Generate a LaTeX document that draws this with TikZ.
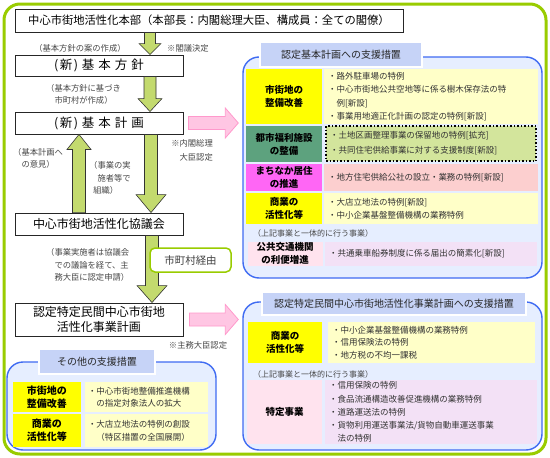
\documentclass[tikz,border=0pt]{standalone}
\usepackage{fontspec}
\setmainfont{Noto Sans CJK JP}
\usetikzlibrary{calc}
\definecolor{ygreen}{HTML}{99CC00}
\definecolor{agreen}{HTML}{C3DA6E}
\definecolor{pblue}{HTML}{3F6BF2}
\definecolor{pbg}{HTML}{E6EEFF}
\definecolor{ptbg}{HTML}{C6D3F7}
\definecolor{cyel}{HTML}{FFFFC8}
\definecolor{lyel}{HTML}{FFFF00}
\definecolor{lteal}{HTML}{5DA27E}
\definecolor{cgreen}{HTML}{D3E59C}
\definecolor{lmag}{HTML}{FF66F5}
\definecolor{cpink}{HTML}{FCCFCF}
\definecolor{lpink}{HTML}{FFE3EE}
\definecolor{clav}{HTML}{F3E1F6}
\definecolor{pinkfill}{HTML}{FFC6E3}
\definecolor{pinkline}{HTML}{FF99CC}
% vertical block arrow: from, to(tip), half shaft, half head, signed head length, style
\newcommand\vblock[6]{\path[#6] let \p1=(#1), \p2=(#2) in
  (\x1-#3,\y1) -- (\x1+#3,\y1) -- (\x1+#3,\y2+#5) -- (\x1+#4,\y2+#5) -- (\x1,\y2)
  -- (\x1-#4,\y2+#5) -- (\x1-#3,\y2+#5) -- cycle;}
% horizontal block arrow pointing right
\newcommand\hblock[6]{\path[#6] let \p1=(#1), \p2=(#2) in
  (\x1,\y1-#3) -- (\x1,\y1+#3) -- (\x2-#5,\y1+#3) -- (\x2-#5,\y1+#4) -- (\x2,\y1)
  -- (\x2-#5,\y1-#4) -- (\x2-#5,\y1-#3) -- cycle;}
\begin{document}
\begin{tikzpicture}[x=1pt,y=-1pt,
  flowbox/.style={draw=black!85, line width=0.9pt, fill=white, inner sep=0pt, align=center, font=\fontsize{12}{15}\selectfont},
  note/.style={inner sep=0pt, text=black!72, font=\fontsize{8.3}{12.5}\selectfont, align=left},
  panel/.style={draw=pblue, line width=1.4pt, fill=pbg, rounded corners=16pt, inner sep=0pt},
  ptitle/.style={draw=pblue, double=white, double distance=1.2pt, line width=0.7pt, fill=ptbg, inner sep=0pt, font=\fontsize{10}{12}\selectfont, text=black!85},
  lab/.style={inner sep=0pt, align=center, font=\fontsize{9.5}{13}\selectfont\bfseries},
  cont/.style={inner xsep=4pt, inner ysep=0pt, align=left, text=black!80, font=\fontsize{8.5}{13.5}\selectfont},
  garrow/.style={fill=agreen, draw=black!80, line width=0.6pt},
  parrow/.style={fill=pinkfill, draw=pinkline, line width=0.8pt},
]
\useasboundingbox (0,0) rectangle (550,458);
\fill[white] (0,0) rectangle (550,458);
\node[draw=ygreen, line width=3pt, rounded corners=16pt, minimum width=542pt, minimum height=450pt, inner sep=0pt] (frame) at (275,229) {};

% ---------- left flow ----------
\node[flowbox, minimum width=388pt, minimum height=23pt, font=\fontsize{11.3}{14}\selectfont] (hq) at (209,20.5) {中心市街地活性化本部（本部長：内閣総理大臣、構成員：全ての閣僚）};
\node[flowbox, minimum width=168pt, minimum height=21pt, font=\fontsize{12.5}{15}\selectfont] (kh) at (99,65.5) {(\hspace{1.5pt}新\hspace{1.5pt})\hspace{4pt}基\hspace{4pt}本\hspace{4pt}方\hspace{4pt}針};
\node[flowbox, minimum width=168pt, minimum height=22pt, font=\fontsize{12.5}{15}\selectfont] (kk) at (99,123) {(\hspace{1.5pt}新\hspace{1.5pt})\hspace{4pt}基\hspace{4pt}本\hspace{4pt}計\hspace{4pt}画};
\node[flowbox, minimum width=168pt, minimum height=22pt] (kg) at (99,224) {中心市街地活性化協議会};
\node[flowbox, minimum width=168pt, minimum height=33pt] (kj) at (99,319.5) {認定特定民間中心市街地\\活性化事業計画};

\coordinate (ax1) at (150,0);
\coordinate (ax3) at (151,0);
\coordinate (ax4) at (79,0);
\coordinate (ax5) at (152,0);
\vblock{hq.south -| ax1}{kh.north -| ax1}{5.5pt}{11pt}{11pt}{garrow}
\vblock{kh.south -| ax1}{kk.north -| ax1}{6pt}{12pt}{13pt}{garrow}
\vblock{kk.south -| ax3}{kg.north -| ax3}{6.5pt}{15pt}{18pt}{garrow}
\vblock{kg.north -| ax4}{kk.south -| ax4}{6.5pt}{12pt}{-15pt}{garrow}
\vblock{kg.south -| ax5}{kj.north -| ax5}{6.5pt}{15pt}{17pt}{garrow}

\node[draw=ygreen, line width=1.5pt, rounded corners=5pt, fill=white, minimum width=81pt, minimum height=24pt, inner sep=0pt, text=black!75, font=\fontsize{10.5}{12}\selectfont] (sv) at (190.5,260) {市町村経由};

\node[note, anchor=center] (na) at (80,48) {（基本方針の案の作成）};
\node[note, anchor=west] (nb) at (167,48) {※閣議決定};
\node[note, anchor=west, font=\fontsize{8.3}{12}\selectfont] (nc) at (46,94) {（基本方針に基づき\\\hspace*{1em}市町村が作成）};
\node[note, anchor=west, font=\fontsize{8.3}{12}\selectfont] (nd) at (13,158) {（基本計画へ\\\hspace*{1em}の意見）};
\node[note, anchor=west] (ne) at (89,178) {（事業の実\\\hspace*{1em}施者等で\\\hspace*{0.5em}組織）};
\node[note, anchor=east, align=right, font=\fontsize{8.3}{14}\selectfont] (nf) at (213,150) {※内閣総理\\大臣認定};
\node[note, anchor=west] (ng) at (46,265) {（事業実施者は協議会\\\hspace*{1em}での議論を経て、主\\\hspace*{1em}務大臣に認定申請）};
\node[note, anchor=center] (nh) at (198,345) {※主務大臣認定};

% ---------- right top panel ----------
\node[panel, minimum width=299pt, minimum height=221pt] (p1) at (392.5,167.5) {};
\node[ptitle, minimum width=162pt, minimum height=25pt] (t1) at (341,54.5) {認定基本計画への支援措置};

\node[lab, fill=lyel, minimum width=76pt, minimum height=55pt] (l11) at (284,96.5) {市街地の\\整備改善};
\node[cont, fill=cyel, minimum height=55pt, text width=206pt] (c11) at (431,96.5) {・路外駐車場の特例\\・中心市街地公共空地等に係る樹木保存法の特\\\hspace*{1em}例[新設]\\・事業用地適正化計画の認定の特例[新設]};

\node[lab, fill=lteal, minimum width=76pt, minimum height=36pt] (l12) at (284,144) {都市福利施設\\の整備};
\node[cont, fill=cgreen, draw=black, line width=1.5pt, dash pattern=on 1.5pt off 2pt, minimum height=35pt, text width=202pt, font=\fontsize{8.5}{15}\selectfont] (c12) at (431,143.5) {・土地区画整理事業の保留地の特例[拡充]\\・共同住宅供給事業に対する支援制度[新設]};

\node[lab, fill=lmag, minimum width=76pt, minimum height=27pt] (l13) at (284,177.5) {まちなか居住\\の推進};
\node[cont, fill=cpink, minimum height=27pt, text width=206pt] (c13) at (431,177.5) {・地方住宅供給公社の設立・業務の特例[新設]};

\node[lab, fill=lyel, minimum width=76pt, minimum height=31pt] (l14) at (284,208.5) {商業の\\活性化等};
\node[cont, fill=cyel, minimum height=31pt, text width=206pt, font=\fontsize{8.5}{13}\selectfont] (c14) at (431,208.5) {・大店立地法の特例[新設]\\・中小企業基盤整備機構の業務特例};

\node[note, anchor=west, font=\fontsize{8}{10}\selectfont] (u1) at (253,233) {（上記事業と一体的に行う事業）};

\node[lab, fill=lpink, minimum width=75pt, minimum height=24pt] (l15) at (285,253.5) {公共交通機関\\の利便増進};
\node[cont, fill=clav, minimum height=24pt, text width=204pt] (c15) at (431,253.5) {・共通乗車船券制度に係る届出の簡素化[新設]};

% ---------- right bottom panel ----------
\node[panel, minimum width=299pt, minimum height=148pt] (p2) at (392.5,376) {};
\node[ptitle, minimum width=264pt, minimum height=23pt] (t2) at (394,303.5) {認定特定民間中心市街地活性化事業計画への支援措置};

\node[lab, fill=lyel, minimum width=74pt, minimum height=41pt] (m11) at (285,342.5) {商業の\\活性化等};
\node[cont, fill=cyel, minimum height=41pt, text width=199pt, font=\fontsize{8.5}{12.5}\selectfont] (d11) at (431.5,342.5) {・中小企業基盤整備機構の業務特例\\・信用保険法の特例\\・地方税の不均一課税};

\node[note, anchor=west, font=\fontsize{8}{10}\selectfont] (u2) at (253,374) {（上記事業と一体的に行う事業）};

\node[lab, fill=lpink, minimum width=75pt, minimum height=64pt] (m12) at (284.5,412) {特定事業};
\node[cont, fill=clav, minimum height=64pt, text width=204pt, font=\fontsize{8.5}{13.2}\selectfont] (d12) at (431,412) {・信用保険の特例\\・食品流通構造改善促進機構の業務特例\\・道路運送法の特例\\・貨物利用運送事業法/貨物自動車運送事業\\\hspace*{1em}法の特例};

% ---------- left bottom panel ----------
\node[panel, minimum width=209pt, minimum height=88pt] (p3) at (111.5,406) {};
\node[ptitle, minimum width=116pt, minimum height=25pt] (t3) at (97,361.5) {その他の支援措置};

\node[lab, fill=lyel, minimum width=68pt, minimum height=30pt, font=\fontsize{10}{13}\selectfont\bfseries] (n11) at (47,397) {市街地の\\整備改善};
\node[cont, fill=cyel, minimum height=30pt, text width=117pt, inner xsep=3pt, font=\fontsize{8.5}{12}\selectfont] (e11) at (146.5,397) {・中心市街地整備推進機構\\\hspace*{1em}の指定対象法人の拡大};
\node[lab, fill=lyel, minimum width=68pt, minimum height=33pt, font=\fontsize{10}{13}\selectfont\bfseries] (n12) at (47,430.5) {商業の\\活性化等};
\node[cont, fill=cyel, minimum height=33pt, text width=117pt, inner xsep=3pt, font=\fontsize{8.5}{13}\selectfont] (e12) at (146.5,430.5) {・大店立地法の特例の創設\\\hspace*{1em}（特区措置の全国展開）};

% ---------- pink arrows ----------
\hblock{$(kk.east)+(5,0)$}{$(kk.east -| p1.west)+(-4,0)$}{6.5pt}{15pt}{13pt}{parrow}
\hblock{$(kj.east)+(6,0)$}{$(kj.east -| p2.west)+(-4,0)$}{6.5pt}{15pt}{13pt}{parrow}
\end{tikzpicture}
\end{document}
